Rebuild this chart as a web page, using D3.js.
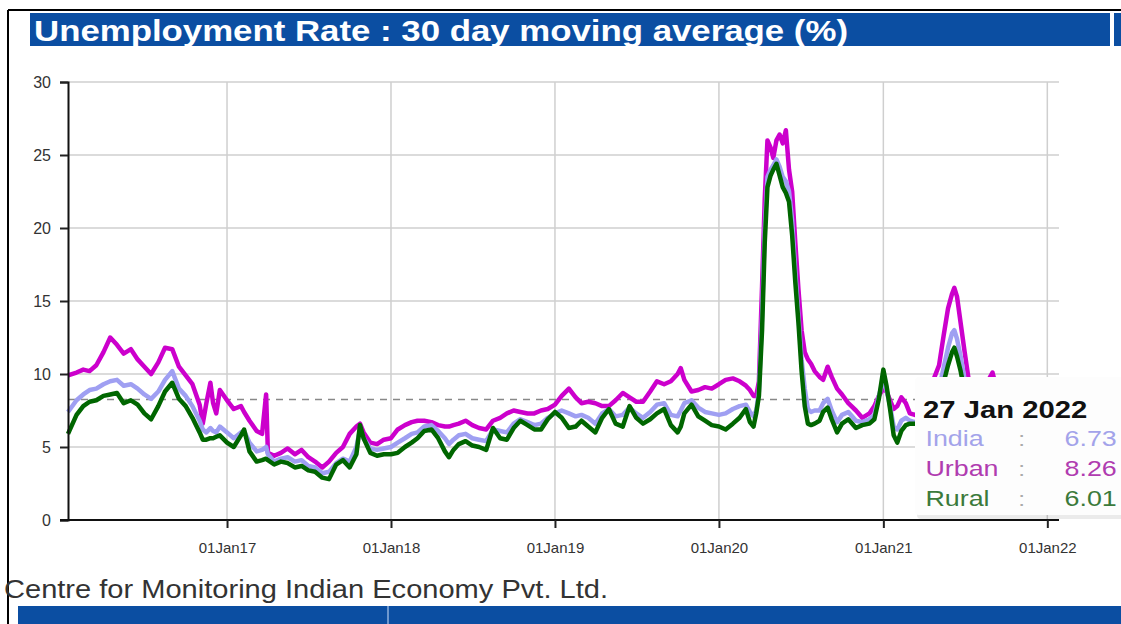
<!DOCTYPE html>
<html>
<head>
<meta charset="utf-8">
<script src="https://cdn.jsdelivr.net/npm/d3@7"></script>
<style>
  body { margin: 0; background: #fff; }
  svg { display: block; font-family: "Liberation Sans", Arial, sans-serif; }
</style>
</head>
<body>
<svg id="chart" width="1121" height="624"></svg>
<script>
// 30 day moving average
const dates = [
  "2016-01-13","2016-02-01","2016-02-16","2016-03-01","2016-03-16","2016-04-01","2016-04-16","2016-05-01","2016-05-16","2016-06-01","2016-06-16","2016-07-01","2016-07-16","2016-08-01","2016-08-16","2016-09-01","2016-09-16","2016-10-01","2016-10-16","2016-11-01","2016-11-08","2016-11-16","2016-11-25","2016-12-01","2016-12-08","2016-12-16",
  "2017-01-01","2017-01-16","2017-02-01","2017-02-08","2017-02-20","2017-03-08","2017-03-20","2017-03-29","2017-04-02","2017-04-16","2017-05-01","2017-05-16","2017-06-01","2017-06-16","2017-07-01","2017-07-16","2017-08-01","2017-08-16","2017-09-01","2017-09-16","2017-10-01","2017-10-16","2017-10-24","2017-11-01","2017-11-16","2017-12-01","2017-12-16",
  "2018-01-01","2018-01-16","2018-02-01","2018-02-16","2018-03-01","2018-03-16","2018-04-01","2018-04-16","2018-05-01","2018-05-10","2018-05-20","2018-06-01","2018-06-16","2018-07-01","2018-07-16","2018-08-01","2018-08-16","2018-09-01","2018-09-16","2018-10-01","2018-10-16","2018-11-01","2018-11-16","2018-12-01","2018-12-16",
  "2019-01-01","2019-01-16","2019-02-01","2019-02-16","2019-03-01","2019-03-16","2019-04-01","2019-04-16","2019-05-01","2019-05-16","2019-06-01","2019-06-16","2019-07-01","2019-07-16","2019-08-01","2019-08-16","2019-09-01","2019-09-16","2019-10-01","2019-10-08","2019-10-16","2019-11-01","2019-11-16","2019-12-01","2019-12-16",
  "2020-01-01","2020-01-16","2020-02-01","2020-02-16","2020-03-01","2020-03-10","2020-03-18","2020-03-24","2020-03-30","2020-04-06","2020-04-12","2020-04-18","2020-04-25","2020-05-01","2020-05-08","2020-05-15","2020-05-22","2020-05-29","2020-06-05","2020-06-12","2020-06-19","2020-06-26","2020-07-03","2020-07-10","2020-07-17","2020-07-24","2020-08-01","2020-08-12","2020-08-20","2020-08-30","2020-09-08","2020-09-20","2020-10-01","2020-10-15","2020-11-01","2020-11-15","2020-12-01","2020-12-12","2020-12-22",
  "2021-01-01","2021-01-08","2021-01-16","2021-01-24","2021-02-01","2021-02-10","2021-02-20","2021-03-01","2021-03-12","2021-03-25","2021-04-10","2021-04-25","2021-05-05","2021-05-15","2021-05-25","2021-06-03","2021-06-08","2021-06-14","2021-06-22","2021-07-01","2021-07-10","2021-07-25","2021-08-10","2021-08-25","2021-09-01","2021-09-10","2021-09-25","2021-10-10","2021-10-25","2021-11-10","2021-11-25","2021-12-10","2021-12-25",
  "2022-01-10","2022-01-27"
];

const urban = [
  9.9,10.1,10.3,10.2,10.6,11.5,12.5,12.0,11.4,11.7,11.0,10.5,10.0,10.8,11.8,11.7,10.5,9.9,9.3,7.9,6.6,8.0,9.4,8.0,7.3,8.9,
  8.2,7.6,7.8,7.4,6.8,6.1,5.9,8.6,4.6,4.4,4.6,4.9,4.5,4.8,4.3,4.0,3.6,4.0,4.6,5.0,5.9,6.4,6.6,6.0,5.3,5.2,5.5,
  5.6,6.2,6.5,6.7,6.8,6.8,6.7,6.5,6.4,6.4,6.5,6.6,6.8,6.5,6.3,6.2,6.8,7.0,7.3,7.5,7.4,7.3,7.3,7.5,7.6,
  7.9,8.5,9.0,8.4,8.0,8.1,8.0,7.8,7.8,8.2,8.7,8.4,8.1,8.1,8.8,9.5,9.3,9.5,10.0,10.4,9.6,8.8,8.9,9.1,9.0,
  9.3,9.6,9.7,9.5,9.2,8.9,8.5,8.5,9.5,16.0,22.0,26.0,25.5,24.8,26.0,26.4,25.8,26.7,24.0,22.5,19.0,15.8,13.0,11.5,11.0,10.7,10.2,9.8,9.6,10.5,9.8,9.0,8.6,8.0,7.5,7.0,7.3,7.8,8.5,
  9.0,8.8,8.2,7.6,7.8,8.4,8.0,7.3,7.2,7.4,9.0,9.8,10.6,12.6,14.5,15.5,15.9,15.3,13.5,11.5,9.6,8.4,9.2,9.7,10.1,9.0,8.5,7.6,7.4,8.2,8.0,8.9,9.3,
  8.8,8.26
];

const india = [
  7.4,8.2,8.6,8.9,9.0,9.3,9.5,9.6,9.2,9.3,9.0,8.6,8.3,8.8,9.6,10.2,9.0,8.5,7.8,6.8,6.2,6.0,6.3,6.1,6.0,6.4,
  6.0,5.6,6.0,6.1,5.3,4.7,4.8,5.0,4.5,4.0,4.2,4.3,4.0,4.1,3.7,3.6,3.2,3.3,3.9,4.2,4.0,5.0,6.2,5.6,4.9,4.8,4.9,
  5.0,5.3,5.6,5.9,6.0,6.4,6.5,6.1,5.6,5.2,5.5,5.8,5.9,5.6,5.5,5.4,6.2,6.1,6.0,6.6,6.9,6.7,6.5,6.6,7.0,
  7.3,7.5,7.3,7.1,7.2,7.0,6.6,7.3,7.6,7.1,7.2,7.7,7.3,7.0,7.4,7.9,8.0,7.2,7.1,7.5,8.0,8.2,7.7,7.4,7.3,
  7.2,7.3,7.6,7.8,7.9,7.4,7.1,7.5,8.8,14.0,20.0,23.5,24.0,24.3,24.7,24.2,23.5,23.2,22.5,20.5,17.0,14.0,11.0,9.0,7.6,7.4,7.5,7.5,8.0,8.3,7.5,6.7,7.2,7.4,6.8,6.7,6.9,7.2,8.5,
  9.6,8.9,7.8,6.4,6.2,6.8,7.0,6.8,6.7,6.8,7.6,8.3,9.0,10.4,11.8,12.8,13.0,12.4,11.2,9.6,8.0,7.1,7.8,8.2,8.3,7.3,6.9,7.4,7.8,7.2,7.0,7.6,7.9,
  7.4,6.73
];

const rural = [
  5.9,7.2,7.8,8.1,8.2,8.5,8.6,8.7,8.0,8.2,7.9,7.3,6.9,7.8,8.8,9.4,8.3,7.8,7.0,6.0,5.5,5.5,5.6,5.6,5.7,5.8,
  5.3,5.0,5.8,6.2,4.7,4.0,4.1,4.2,4.1,3.8,4.0,3.9,3.6,3.7,3.4,3.3,2.9,2.8,3.8,4.1,3.6,4.5,6.5,5.6,4.6,4.4,4.5,
  4.5,4.6,5.0,5.3,5.6,6.1,6.2,5.6,4.7,4.3,4.8,5.2,5.4,5.1,5.0,4.8,6.3,5.6,5.5,6.3,6.8,6.5,6.2,6.2,6.9,
  7.4,7.0,6.3,6.4,6.8,6.4,6.0,7.0,7.6,6.6,6.4,7.8,7.0,6.6,6.9,7.3,7.6,6.5,6.0,6.4,7.3,7.9,7.1,6.8,6.5,
  6.4,6.2,6.6,7.0,7.6,6.7,6.4,7.3,8.5,13.0,19.0,22.8,23.6,24.0,24.4,23.6,22.8,22.4,21.8,19.5,16.3,13.5,10.2,7.8,6.6,6.5,6.6,6.8,7.4,7.7,6.9,6.0,6.6,6.9,6.3,6.5,6.6,6.9,8.3,
  10.3,9.2,7.6,5.8,5.3,6.1,6.5,6.6,6.6,6.5,7.0,7.7,8.3,9.4,10.6,11.5,11.8,11.2,10.2,8.8,7.3,6.5,7.0,7.6,7.5,6.5,6.1,7.3,7.9,6.8,6.4,7.0,7.3,
  6.8,6.01
];

const yTicks = [0, 5, 10, 15, 20, 25, 30];
const xTicks = ["2017-01-01", "2018-01-01", "2019-01-01", "2020-01-01", "2021-01-01", "2022-01-01"];
const tipDate = "27 Jan 2022";
const tipRows = [
  { name: "India", value: "6.73" },
  { name: "Urban", value: "8.26" },
  { name: "Rural", value: "6.01" }
];

const parse = d3.timeParse("%Y-%m-%d");
let svg = d3.select("#chart");

let x = d3.scaleTime()
  .domain([parse(dates[0]), parse(dates[dates.length - 1])])
  .range([68, 1059]);
let y = d3.scaleLinear().domain([0, 30]).range([520, 82]);

// outer frame
svg.append("line").attr("x1", 8).attr("x2", 1121).attr("y1", 10).attr("y2", 10)
  .attr("stroke", "#000").attr("stroke-width", 2);
svg.append("line").attr("x1", 8).attr("x2", 8).attr("y1", 10).attr("y2", 624)
  .attr("stroke", "#000").attr("stroke-width", 2);

// title bar
svg.append("rect").attr("x", 30).attr("y", 13).attr("width", 1080).attr("height", 33).attr("fill", "#0b4ea2");
svg.append("rect").attr("x", 1114).attr("y", 13).attr("width", 7).attr("height", 33).attr("fill", "#0b4ea2");
svg.append("text")
  .attr("x", 34).attr("y", 41)
  .text("Unemployment Rate : 30 day moving average (%)")
  .attr("font-size", "29px").attr("font-weight", "700").attr("fill", "#fff")
  .attr("textLength", 814).attr("lengthAdjust", "spacingAndGlyphs");

// grid
let grid = svg.append("g");
grid.selectAll(".hg").data(yTicks.slice(1)).enter().append("line")
  .attr("x1", 68).attr("x2", 1059)
  .attr("y1", (d) => y(d)).attr("y2", (d) => y(d))
  .attr("stroke", "#cfcfcf").attr("stroke-width", 1.5);
grid.selectAll(".vg").data(xTicks).enter().append("line")
  .attr("x1", (d) => x(parse(d))).attr("x2", (d) => x(parse(d)))
  .attr("y1", 82).attr("y2", 520)
  .attr("stroke", "#cfcfcf").attr("stroke-width", 1.5);

// crosshair at the hovered urban value
svg.append("line")
  .attr("x1", 68).attr("x2", 1059)
  .attr("y1", y(+tipRows[1].value)).attr("y2", y(+tipRows[1].value))
  .attr("stroke", "#888").attr("stroke-width", 1.5).attr("stroke-dasharray", "7,6");

// series
let series = [
  { values: urban, color: "#cc00cc" },
  { values: india, color: "#9f9ff2" },
  { values: rural, color: "#006600" }
];
let line = d3.line()
  .x((d, i) => x(parse(dates[i])))
  .y((d) => y(d));
series.forEach((s) => {
  svg.append("path")
    .attr("d", line(s.values))
    .attr("fill", "none")
    .attr("stroke", s.color)
    .attr("stroke-width", 4.5)
    .attr("stroke-linejoin", "round");
});

// axes
let yAxis = svg.append("g").attr("transform", "translate(68,0)")
  .call(d3.axisLeft(y).tickValues(yTicks).tickSize(8).tickPadding(9));
let xAxis = svg.append("g").attr("transform", "translate(0,520)")
  .call(d3.axisBottom(x).tickValues(xTicks.map(parse)).tickSize(8).tickPadding(14)
    .tickFormat(d3.timeFormat("%dJan%y")));
[yAxis, xAxis].forEach((a) => {
  a.select(".domain").attr("stroke", "#111").attr("stroke-width", 2);
  a.selectAll(".tick line").attr("stroke", "#222").attr("stroke-width", 2);
  a.selectAll(".tick text").attr("font-size", "15px").attr("fill", "#333")
    .attr("font-family", "'Liberation Sans', Arial, sans-serif");
});
yAxis.selectAll(".tick text").attr("font-size", "16px");
xAxis.select(".domain").attr("d", "M60,0H1059");

// tooltip (text is wider than tall in the source, so stretch it)
let tip = svg.append("g").attr("transform", "translate(915,377)");
tip.append("rect").attr("x", 2).attr("y", 3).attr("width", 220).attr("height", 139)
  .attr("rx", 4).attr("fill", "#000").attr("opacity", 0.08);
tip.append("rect").attr("x", 0).attr("y", 0).attr("width", 220).attr("height", 138)
  .attr("rx", 4).attr("fill", "#fdfdfd");
let tipText = tip.append("g").attr("transform", "translate(8,0) scale(1.22,1)");
tipText.append("text").attr("x", 0).attr("y", 41).text(tipDate)
  .attr("font-size", "24px").attr("font-weight", "700").attr("fill", "#111");
let tipColors = ["#a3a3ea", "#b03cb0", "#3b7a3b"];
tipRows.forEach((r, i) => {
  let ty = 69 + i * 30;
  tipText.append("text").attr("x", 2).attr("y", ty).text(r.name)
    .attr("font-size", "22px").attr("fill", tipColors[i]);
  tipText.append("text").attr("x", 78).attr("y", ty).text(":")
    .attr("font-size", "20px").attr("fill", "#aaa");
  tipText.append("text").attr("x", 116).attr("y", ty).text(r.value)
    .attr("font-size", "22px").attr("fill", tipColors[i]);
});

// source + footer bar
svg.append("text").attr("x", 4).attr("y", 598)
  .text("Centre for Monitoring Indian Economy Pvt. Ltd.")
  .attr("font-size", "25px").attr("fill", "#333")
  .attr("textLength", 604).attr("lengthAdjust", "spacingAndGlyphs");
svg.append("rect").attr("x", 18).attr("y", 606).attr("width", 1103).attr("height", 18).attr("fill", "#0b4ea2");
svg.append("line").attr("x1", 388).attr("x2", 388).attr("y1", 606).attr("y2", 624)
  .attr("stroke", "#8fb0dd").attr("stroke-width", 1.5);
</script>
</body>
</html>
